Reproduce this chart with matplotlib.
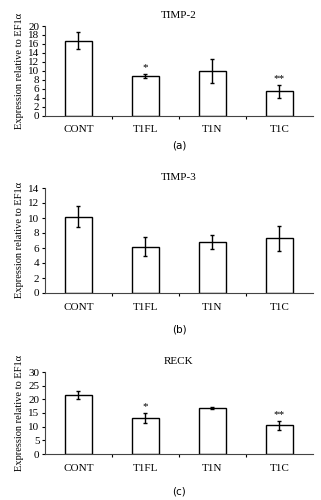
import matplotlib
matplotlib.use('Agg')
import matplotlib.pyplot as plt
import numpy as np

categories = ['CONT', 'T1FL', 'T1N', 'T1C']

timp2 = [16.7, 8.8, 10.0, 5.4]
timp2_err = [1.9, 0.5, 2.7, 1.4]
timp2_stars = ['', '*', '', '**']

timp3 = [10.2, 6.2, 6.8, 7.3]
timp3_err = [1.4, 1.3, 0.95, 1.7]
timp3_stars = ['', '', '', '']

reck = [21.6, 13.3, 16.8, 10.5]
reck_err = [1.6, 1.8, 0.3, 1.6]
reck_stars = ['', '*', '', '**']

panels = [
    ('TIMP-2', timp2, timp2_err, timp2_stars, 20, 2, '(a)',
     [0.140, 0.769, 0.835, 0.179], 0.710),
    ('TIMP-3', timp3, timp3_err, timp3_stars, 14, 2, '(b)',
     [0.140, 0.414, 0.835, 0.210], 0.340),
    ('RECK', reck, reck_err, reck_stars, 30, 5, '(c)',
     [0.140, 0.092, 0.835, 0.164], 0.016),
]

serif = 'Liberation Serif'
fs = 8

fig = plt.figure(figsize=(3.21, 5.00), dpi=100)
x = np.arange(len(categories))

for title, vals, errs, stars, ymax, step, label, pos, label_y in panels:
    ax = fig.add_axes(pos)
    ax.bar(x, vals, width=0.4, color='white', edgecolor='black', linewidth=1.0)
    ax.errorbar(x, vals, yerr=errs, fmt='none', ecolor='black',
                elinewidth=1.0, capsize=1.5, capthick=1.0)
    for xi, v, e, s in zip(x, vals, errs, stars):
        if s:
            ax.text(xi, v + e + ymax * 0.02, s, ha='center', va='bottom',
                    fontsize=8, family=serif)
    ax.set_xlim(-0.5, len(categories) - 0.5)
    ax.set_ylim(0, ymax)
    ax.set_yticks(np.arange(0, ymax + step / 2, step))
    ax.set_xticks(x)
    ax.set_xticklabels(categories, family=serif, fontsize=fs)
    ax.set_xticks(np.arange(0.5, len(categories) - 0.5, 1), minor=True)
    ax.tick_params(axis='x', which='major', length=0, pad=7)
    ax.tick_params(axis='x', which='minor', length=2.5, width=0.8)
    ax.tick_params(axis='y', length=2.5, width=0.8, pad=1.5, labelsize=fs)
    for t in ax.get_yticklabels():
        t.set_family(serif)
    for sp in ['top', 'right']:
        ax.spines[sp].set_visible(False)
    for sp in ['left', 'bottom']:
        ax.spines[sp].set_linewidth(0.8)
        ax.spines[sp].set_color('#444444')
    ax.set_title(title, family=serif, fontsize=fs, pad=6)
    ax.set_ylabel('Expression relative to EF1\u03b1', family=serif, fontsize=7.5,
                  labelpad=3)
    fig.text(pos[0] + pos[2] / 2, label_y, label, ha='center', va='center',
             fontsize=7.5)

fig.savefig('out.png', dpi=100)
